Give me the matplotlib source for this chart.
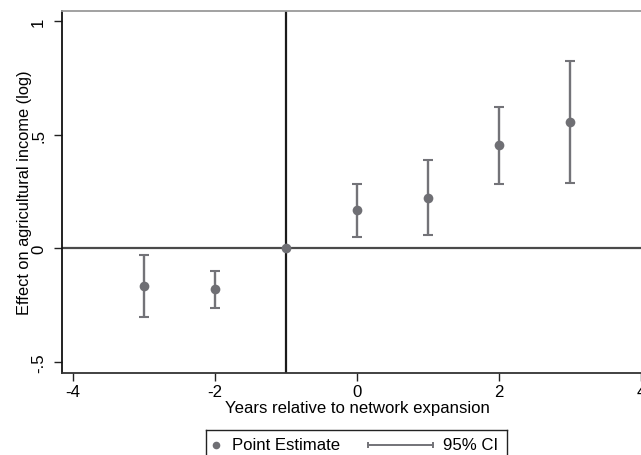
import matplotlib
matplotlib.use("Agg")
import matplotlib.pyplot as plt

plt.rcParams['font.family'] = ['Liberation Sans', 'DejaVu Sans']

years = [-3, -2, -1, 0, 1, 2, 3]
estimates = [-0.167, -0.180, 0.0, 0.167, 0.221, 0.453, 0.554]
ci_low = [-0.303, -0.262, 0.0, 0.050, 0.057, 0.283, 0.289]
ci_high = [-0.029, -0.098, 0.0, 0.283, 0.387, 0.624, 0.822]
xticks = [-4, -2, 0, 2, 4]
yticks = [-0.5, 0, 0.5, 1]
ytick_labels = ['-.5', '0', '.5', '1']

W, H = 641, 456
fig = plt.figure(figsize=(W / 100, H / 100), dpi=100)
ax = fig.add_axes([62 / W, (H - 374) / H, 590 / W, 362 / H])

gray = '#737378'
fs = 12.1
# reference lines
ax.axhline(0, color='#4a4a4a', lw=1.6, zorder=1)
ax.axvline(-1, color='#1a1a1a', lw=1.6, zorder=1)

# CIs (skip the reference year with zero width)
xs = [x for x, lo, hi in zip(years, ci_low, ci_high) if hi > lo]
los = [lo for lo, hi in zip(ci_low, ci_high) if hi > lo]
his = [hi for lo, hi in zip(ci_low, ci_high) if hi > lo]
ax.vlines(xs, los, his, color=gray, lw=1.7, zorder=2)
ax.plot(xs, los, linestyle='none', marker='_', markersize=6.5, markeredgewidth=1.5, color=gray, zorder=2)
ax.plot(xs, his, linestyle='none', marker='_', markersize=6.5, markeredgewidth=1.5, color=gray, zorder=2)
ax.plot(years, estimates, linestyle='none', marker='o', markersize=7, color='#6f6f74',
        markeredgewidth=0, zorder=3)

ax.set_xlim(-4.155, 4.155)
ax.set_ylim(-0.548, 1.044)
ax.set_xticks(xticks)
ax.set_xticklabels([str(t) for t in xticks])
ax.set_yticks(yticks)
ax.set_yticklabels(ytick_labels, rotation=90, va='center')
ax.tick_params(axis='both', labelsize=fs, length=6, width=1, color='#222222', direction='out')
ax.tick_params(axis='y', pad=5.5)
ax.tick_params(axis='x', pad=2)

ax.spines['left'].set_color('#111111')
ax.spines['left'].set_linewidth(1.3)
ax.spines['bottom'].set_color('#333333')
ax.spines['bottom'].set_linewidth(1.3)
ax.spines['top'].set_color('#9a9a9a')
ax.spines['top'].set_linewidth(1.3)
ax.spines['right'].set_visible(False)

ax.set_xlabel('Years relative to network expansion', fontsize=fs, labelpad=1)
ax.set_ylabel('Effect on agricultural income (log)', fontsize=11.8, labelpad=-0.5)

# manual legend box
lax = fig.add_axes([206 / W, (H - 470) / H, 301 / W, 39 / H])
lax.set_xlim(0, 301)
lax.set_ylim(0, 39)
lax.set_xticks([])
lax.set_yticks([])
for s in lax.spines.values():
    s.set_color('#222222')
    s.set_linewidth(1.0)
ly = 24
lax.plot([10], [ly], marker='o', markersize=5.5, color='#6f6f74', markeredgewidth=0)
lax.text(26, ly, 'Point Estimate', fontsize=fs, va='center', ha='left')
lax.plot([162, 227], [ly, ly], color=gray, lw=1.4)
lax.plot([162, 227], [ly, ly], linestyle='none', marker='|', markersize=5, markeredgewidth=1.4, color=gray)
lax.text(237, ly, '95% CI', fontsize=fs, va='center', ha='left')

fig.savefig('out.png', dpi=100)
